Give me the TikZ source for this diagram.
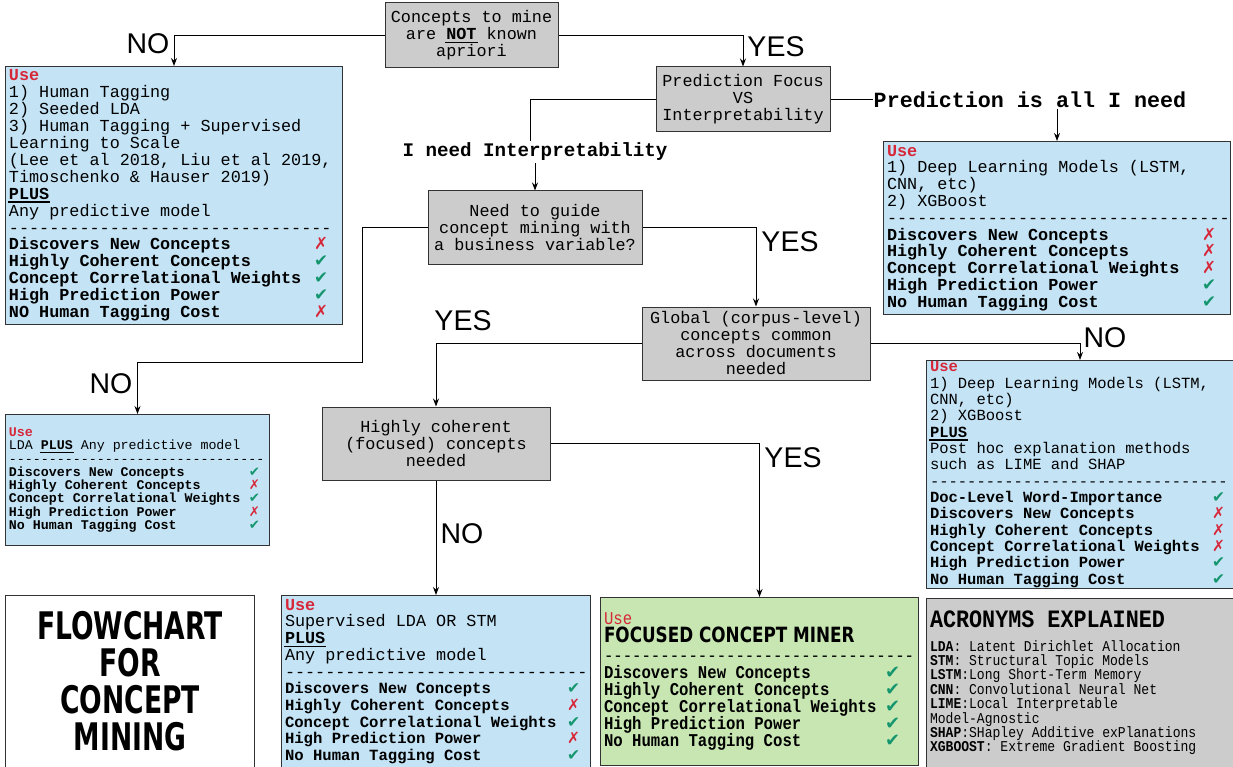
\documentclass[tikz,border=0pt]{standalone}
\usepackage{fontspec}
\setmainfont{Liberation Sans}
\setmonofont{Liberation Mono}
\newfontfamily\condtt{Liberation Mono}[FakeStretch=0.87]
\newfontfamily\symfont{DejaVu Sans}
\newfontfamily\blockfont{DejaVu Sans}[FakeStretch=0.7]
\newfontfamily\blockwide{DejaVu Sans}[FakeStretch=0.8]
\usetikzlibrary{arrows.meta}
\definecolor{usered}{RGB}{214,40,57}
\definecolor{okgreen}{RGB}{22,150,110}
\definecolor{useblue}{RGB}{196,228,246}
\definecolor{usegreen}{RGB}{199,230,178}
\definecolor{boxgray}{RGB}{204,204,204}
\newcommand\cmark{\textcolor{okgreen}{\symfont ✔}}
\newcommand\xmark{\textcolor{usered}{\symfont ✗}}
\newcommand\crit[2]{\makebox[\critw][l]{\bfseries #1}#2}
\newcommand\dashline[1]{\mbox{\count255=0 \loop-\kern0pt\advance\count255 by 1 \ifnum\count255<#1 \repeat}}
\newcommand\ubold[1]{\leavevmode\setbox0\hbox{\bfseries #1}\rlap{\kern-1pt\rule[-3.5pt]{\dimexpr\wd0+2pt\relax}{1.6pt}}\box0\relax}
\newcommand\fullspaces{\spaceskip=0pt\xspaceskip=0pt\relax}
\begin{document}
\begin{tikzpicture}[x=1pt,y=-1pt,>={Stealth[length=8pt,width=6pt]},
    decision/.style={draw=black!80, fill=boxgray, line width=1pt, align=center, inner sep=2pt,
      font=\ttfamily\fontsize{16.8}{17}\selectfont},
    usebox/.style={draw=black!80, fill=useblue, line width=1pt, anchor=north west, align=left,
      inner xsep=3.5pt, inner ysep=1pt},
    answer/.style={inner sep=0pt, font=\fontsize{28.5}{30}\selectfont},
    link/.style={->, line width=1pt}]
    \useasboundingbox (0,0) rectangle (1233,767);

    % Decisiones
    \node[decision, minimum width=173pt, minimum height=65pt] (apriori) at (471.5,35.5) {Concepts to mine\\are \ubold{NOT} known\\apriori};
    \node[decision, minimum width=174pt, minimum height=65pt] (focus) at (743,99.5) {Prediction Focus\\VS\\Interpretability};
    \node[decision, minimum width=214pt, minimum height=73pt] (guide) at (535,227.5) {Need to guide\\concept mining with\\a business variable?};
    \node[decision, minimum width=228pt, minimum height=73pt] (global) at (756,343.5) {Global (corpus-level)\\concepts common\\across documents\\needed};
    \node[decision, minimum width=228pt, minimum height=73pt] (coherent) at (436,443.5) {Highly coherent\\(focused) concepts\\needed};

    % Cajas de resultado
    \node[usebox, text width=330pt, minimum height=258pt, font=\ttfamily\fontsize{16.8}{16.9}\selectfont] (useA) at (5,66) {\fullspaces\def\critw{305pt}%
      \textcolor{usered}{\bfseries Use}\\
      1) Human Tagging\\
      2) Seeded LDA\\
      3) Human Tagging + Supervised\\
      Learning to Scale\\
      (Lee et al 2018, Liu et al 2019,\\
      Timoschenko \& Hauser 2019)\\
      \ubold{PLUS}\\
      Any predictive model\\
      \dashline{32}\\
      \crit{Discovers New Concepts}{\xmark}\\
      \crit{Highly Coherent Concepts}{\cmark}\\
      \crit{Concept Correlational Weights}{\cmark}\\
      \crit{High Prediction Power}{\cmark}\\
      \crit{NO Human Tagging Cost}{\xmark}};
    \node[usebox, text width=340pt, minimum height=173pt, font=\ttfamily\fontsize{16.8}{16.8}\selectfont] (useF) at (883,141) {\fullspaces\def\critw{315pt}%
      \textcolor{usered}{\bfseries Use}\\
      1) Deep Learning Models (LSTM,\\
      CNN, etc)\\
      2) XGBoost\\
      \dashline{34}\\
      \crit{Discovers New Concepts}{\xmark}\\
      \crit{Highly Coherent Concepts}{\xmark}\\
      \crit{Concept Correlational Weights}{\xmark}\\
      \crit{High Prediction Power}{\cmark}\\
      \crit{No Human Tagging Cost}{\cmark}};
    \node[usebox, text width=257pt, minimum height=131pt, font=\ttfamily\fontsize{13.3}{13.3}\selectfont] (useG) at (5,414) {\fullspaces\def\critw{240pt}%
      \textcolor{usered}{\bfseries Use}\\
      LDA \ubold{PLUS} Any predictive model\\
      \dashline{32}\\
      \crit{Discovers New Concepts}{\cmark}\\
      \crit{Highly Coherent Concepts}{\xmark}\\
      \crit{Concept Correlational Weights}{\cmark}\\
      \crit{High Prediction Power}{\xmark}\\
      \crit{No Human Tagging Cost}{\cmark}};
    \node[usebox, text width=300pt, minimum height=228pt, inner ysep=0pt, font=\ttfamily\fontsize{15.5}{16.35}\selectfont] (useH) at (926,360) {\fullspaces\def\critw{282pt}%
      \textcolor{usered}{\bfseries Use}\\
      1) Deep Learning Models (LSTM,\\
      CNN, etc)\\
      2) XGBoost\\
      \ubold{PLUS}\\
      Post hoc explanation methods\\
      such as LIME and SHAP\\
      \dashline{32}\\
      \crit{Doc-Level Word-Importance}{\cmark}\\
      \crit{Discovers New Concepts}{\xmark}\\
      \crit{Highly Coherent Concepts}{\xmark}\\
      \crit{Concept Correlational Weights}{\xmark}\\
      \crit{High Prediction Power}{\cmark}\\
      \crit{No Human Tagging Cost}{\cmark}};
    \node[usebox, text width=302pt, minimum height=172pt, font=\ttfamily\fontsize{16.8}{16.7}\selectfont] (useI) at (281,595) {\fullspaces\def\critw{282pt}%
      \textcolor{usered}{\bfseries Use}\\
      Supervised LDA OR STM\\
      \ubold{PLUS}\\
      Any predictive model\\
      \dashline{30}\\
      \fontsize{15.6}{16.7}\selectfont
      \crit{Discovers New Concepts}{\cmark}\\
      \crit{Highly Coherent Concepts}{\xmark}\\
      \crit{Concept Correlational Weights}{\cmark}\\
      \crit{High Prediction Power}{\xmark}\\
      \crit{No Human Tagging Cost}{\cmark}};
    \node[usebox, fill=usegreen, text width=311pt, minimum height=168pt, font=\condtt\fontsize{18}{17}\selectfont] (useJ) at (600,597) {\fullspaces\def\critw{281pt}%
      \textcolor{usered}{Use}\\[1pt]
      {\blockwide\bfseries\fontsize{21}{20}\selectfont FOCUSED CONCEPT MINER}\\[2pt]
      \dashline{33}\\
      \crit{Discovers New Concepts}{\cmark}\\
      \crit{Highly Coherent Concepts}{\cmark}\\
      \crit{Concept Correlational Weights}{\cmark}\\
      \crit{High Prediction Power}{\cmark}\\
      \crit{No Human Tagging Cost}{\cmark}};
    \node[usebox, fill=boxgray, text width=300pt, minimum height=169pt, inner ysep=3pt, font=\condtt\fontsize{15}{14.4}\selectfont] (acronyms) at (926,598) {\fullspaces
      {\bfseries\fontsize{25}{25}\selectfont ACRONYMS EXPLAINED}\\[9pt]
      \textbf{LDA}: Latent Dirichlet Allocation\\
      \textbf{STM}: Structural Topic Models\\
      \textbf{LSTM}:Long Short-Term Memory\\
      \textbf{CNN}: Convolutional Neural Net\\
      \textbf{LIME}:Local Interpretable\\
      Model-Agnostic\\
      \textbf{SHAP}:SHapley Additive exPlanations\\
      \textbf{XGBOOST}: Extreme Gradient Boosting};
    \node[draw=black!80, fill=white, line width=1pt, anchor=north west, minimum width=249pt, minimum height=172pt, align=center,
      font=\blockfont\bfseries\fontsize{38}{37}\selectfont] (title) at (5,595) {FLOWCHART\\FOR\\CONCEPT\\MINING};

    % Etiquetas
    \node[answer] (noA) at (148,44) {NO};
    \node[answer] (yesFocus) at (776,47) {YES};
    \node[answer] (yesGlobal) at (790,242) {YES};
    \node[answer] (noG) at (111,384) {NO};
    \node[answer] (yesCoherent) at (463,321) {YES};
    \node[answer] (noH) at (1105,338) {NO};
    \node[answer] (noI) at (462,534) {NO};
    \node[answer] (yesJ) at (793,458) {YES};
    \node[inner sep=1pt, font=\ttfamily\bfseries\fontsize{21.7}{22}\selectfont] (lblPred) at (1030,100) {Prediction is all I need};
    \node[inner sep=2pt, font=\ttfamily\bfseries\fontsize{19.2}{20}\selectfont] (lblInterp) at (535,152) {I need Interpretability};
    \coordinate (bendG) at (362,362);

    % Conectores
    \draw[link] (apriori.west) -| (useA.north);
    \draw[link] (apriori.east) -| (focus.north);
    \draw[line width=1pt] (focus.west) -| ([xshift=-5pt]lblInterp.north);
    \draw[link] (lblInterp.south) -- (guide.north);
    \draw[line width=1pt] (focus.east) -- (focus.east -| lblPred.west);
    \draw[link] (lblPred.south -| useF.north) -- (useF.north);
    \draw[link] (guide.west) -| (bendG) -| (useG.north);
    \draw[link] (guide.east) -| (global.north);
    \draw[link] (global.west) -| (coherent.north);
    \draw[link] (global.east) -| (useH.north);
    \draw[link] (coherent.south) -- (useI.north);
    \draw[link] (coherent.east) -| (useJ.north);
\end{tikzpicture}
\end{document}
